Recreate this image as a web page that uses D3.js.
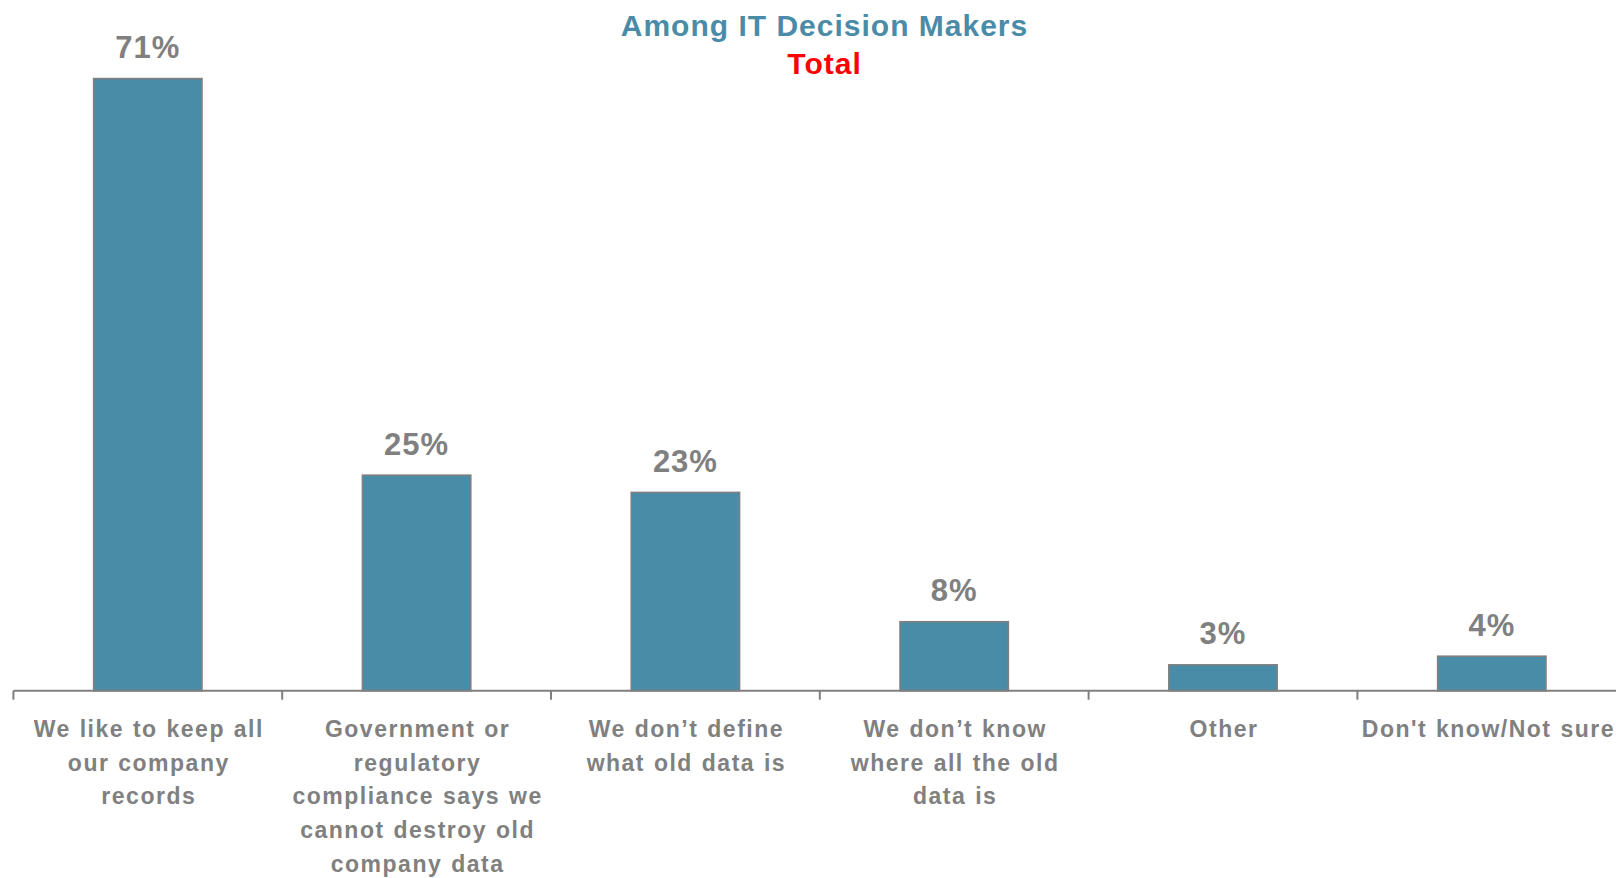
<!DOCTYPE html>
<html>
<head>
<meta charset="utf-8">
<script src="https://cdn.jsdelivr.net/npm/d3@7"></script>
<style>
html,body{margin:0;padding:0;background:#fff;}
svg{display:block;}
text{font-family:"Liberation Sans",Arial,sans-serif;font-weight:bold;}
</style>
</head>
<body>
<svg id="chart" width="1616" height="878"></svg>
<script>
const titleText = "Among IT Decision Makers";
const subtitleText = "Total";
const categories = [
  ["We like to keep all","our company","records"],
  ["Government or","regulatory","compliance says we","cannot destroy old","company data"],
  ["We don\u2019t define","what old data is"],
  ["We don\u2019t know","where all the old","data is"],
  ["Other"],
  ["Don't know/Not sure"]
];
const values = [71, 25, 23, 8, 3, 4];
const valueLabels = ["71%","25%","23%","8%","3%","4%"];

const W = 1616, H = 878;
const svg = d3.select("#chart");
const axisY = 690.7;
const x0 = 13.4, step = 268.8;
const idx = d3.range(values.length);
const x = d3.scaleBand().domain(idx).range([x0, x0 + step * values.length]).padding(0);
const y = d3.scaleLinear().domain([0, 80]).range([axisY, 1]);
const barW = x.bandwidth() * 0.403;
const grey = "#808080";

// bars
svg.append("g").selectAll("rect").data(idx).join("rect")
  .attr("x", i => x(i) + (x.bandwidth() - barW) / 2)
  .attr("y", i => y(values[i]))
  .attr("width", barW)
  .attr("height", i => axisY - y(values[i]))
  .attr("fill", "#488CA8")
  .attr("stroke", grey)
  .attr("stroke-width", 1.6);

// axis line and ticks
svg.append("line").attr("x1", x0).attr("x2", W).attr("y1", axisY).attr("y2", axisY)
  .attr("stroke", grey).attr("stroke-width", 2);
svg.append("g").selectAll("line").data(idx).join("line")
  .attr("x1", i => x(i)).attr("x2", i => x(i))
  .attr("y1", axisY).attr("y2", axisY + 9)
  .attr("stroke", grey).attr("stroke-width", 2);

// value labels
svg.append("g").selectAll("text").data(idx).join("text")
  .attr("x", i => x(i) + x.bandwidth() / 2)
  .attr("y", i => y(values[i]) - 20.6)
  .attr("text-anchor", "middle")
  .attr("fill", grey)
  .attr("font-size", 31)
  .attr("letter-spacing", 1)
  .text(i => valueLabels[i]);

// category labels
const cl = svg.append("g").selectAll("text").data(idx).join("text")
  .attr("text-anchor", "middle")
  .attr("fill", grey)
  .attr("font-size", 23)
  .attr("letter-spacing", 1.5)
  .attr("word-spacing", 1);
cl.each(function(i) {
  const t = d3.select(this);
  categories[i].forEach((line, k) => {
    t.append("tspan")
      .attr("x", x(i) + x.bandwidth() / 2 + 1)
      .attr("y", axisY + 46 + k * 33.8)
      .text(line);
  });
  // keep label inside the picture
  const bb = this.getBBox();
  const over = bb.x + bb.width - (W - 1);
  if (over > 0) {
    t.selectAll("tspan").attr("x", x(i) + x.bandwidth() / 2 + 1 - over);
  }
});

// titles
svg.append("text").attr("x", 824.5).attr("y", 35.7)
  .attr("text-anchor", "middle").attr("fill", "#4A8CA8")
  .attr("font-size", 30).attr("letter-spacing", 1)
  .text(titleText);
svg.append("text").attr("x", 824.5).attr("y", 74)
  .attr("text-anchor", "middle").attr("fill", "#FF0000")
  .attr("font-size", 30).attr("letter-spacing", 1)
  .text(subtitleText);
</script>
</body>
</html>
